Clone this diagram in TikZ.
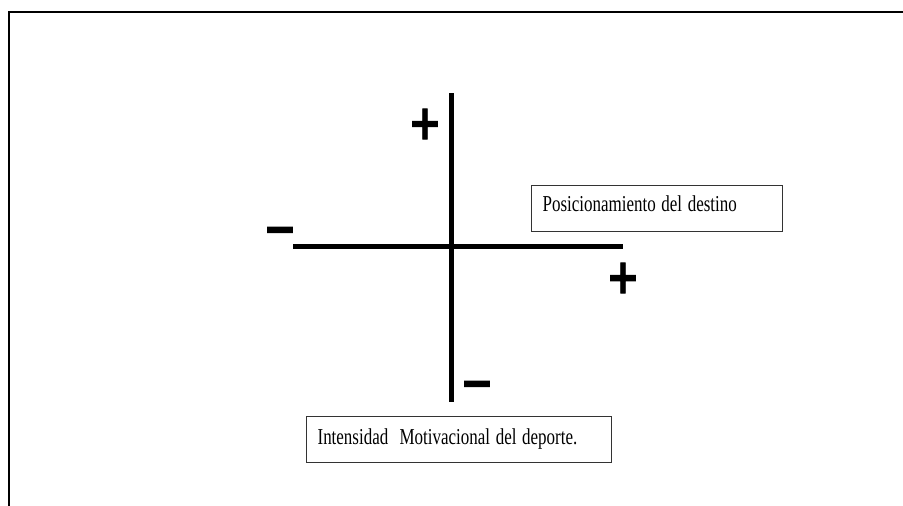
\documentclass[tikz,border=0pt]{standalone}
\usepackage{fontspec}
\setmainfont{Liberation Serif}
\newfontfamily\signfont[BoldFeatures={FakeBold=2}]{DejaVu Sans}
\usetikzlibrary{positioning}

\newcommand{\tallsign}[1]{\scalebox{1}[1.2]{#1}}
\newcommand{\talltext}[1]{\scalebox{0.97}[1.3]{#1}}

\begin{document}
\begin{tikzpicture}[
    x=1pt, y=-1pt,
    axis/.style={line width=5pt},
    sign/.style={font=\signfont\bfseries\fontsize{40}{40}\selectfont, inner sep=0pt},
    labelbox/.style={draw=black!80, line width=1.2pt, font=\fontsize{17.5}{20}\selectfont,
        text width=229pt, align=left, inner xsep=11pt, inner ysep=0pt, anchor=north west}
]
    \useasboundingbox (0,0) rectangle (903,506);
    \draw[line width=2pt] (903,11.5) -- (8.5,11.5) -- (8.5,506);

    \coordinate (ytop) at (451,93);
    \coordinate (ybot) at (451,402);
    \coordinate (xleft) at (293,246);
    \coordinate (xright) at (623,246);
    \draw[axis] (ytop) -- (ybot);
    \draw[axis] (xleft) -- (xright);

    \node[sign] (plustop) at (425,124) {\tallsign{+}};
    \node[sign] (minusleft) at (280,236) {\tallsign{−}};
    \node[sign] (plusright) at (623,278) {\tallsign{+}};
    \node[sign] (minusbot) at (477,390) {\tallsign{−}};

    \node[labelbox, text height=26pt, text depth=20pt] (destino) at (531,185) {\talltext{Posicionamiento del destino}};
    \node[labelbox, text width=283pt, text height=28pt, text depth=18pt] (deporte) at (306,416) {\talltext{Intensidad\ \ Motivacional del deporte.}};
\end{tikzpicture}
\end{document}
